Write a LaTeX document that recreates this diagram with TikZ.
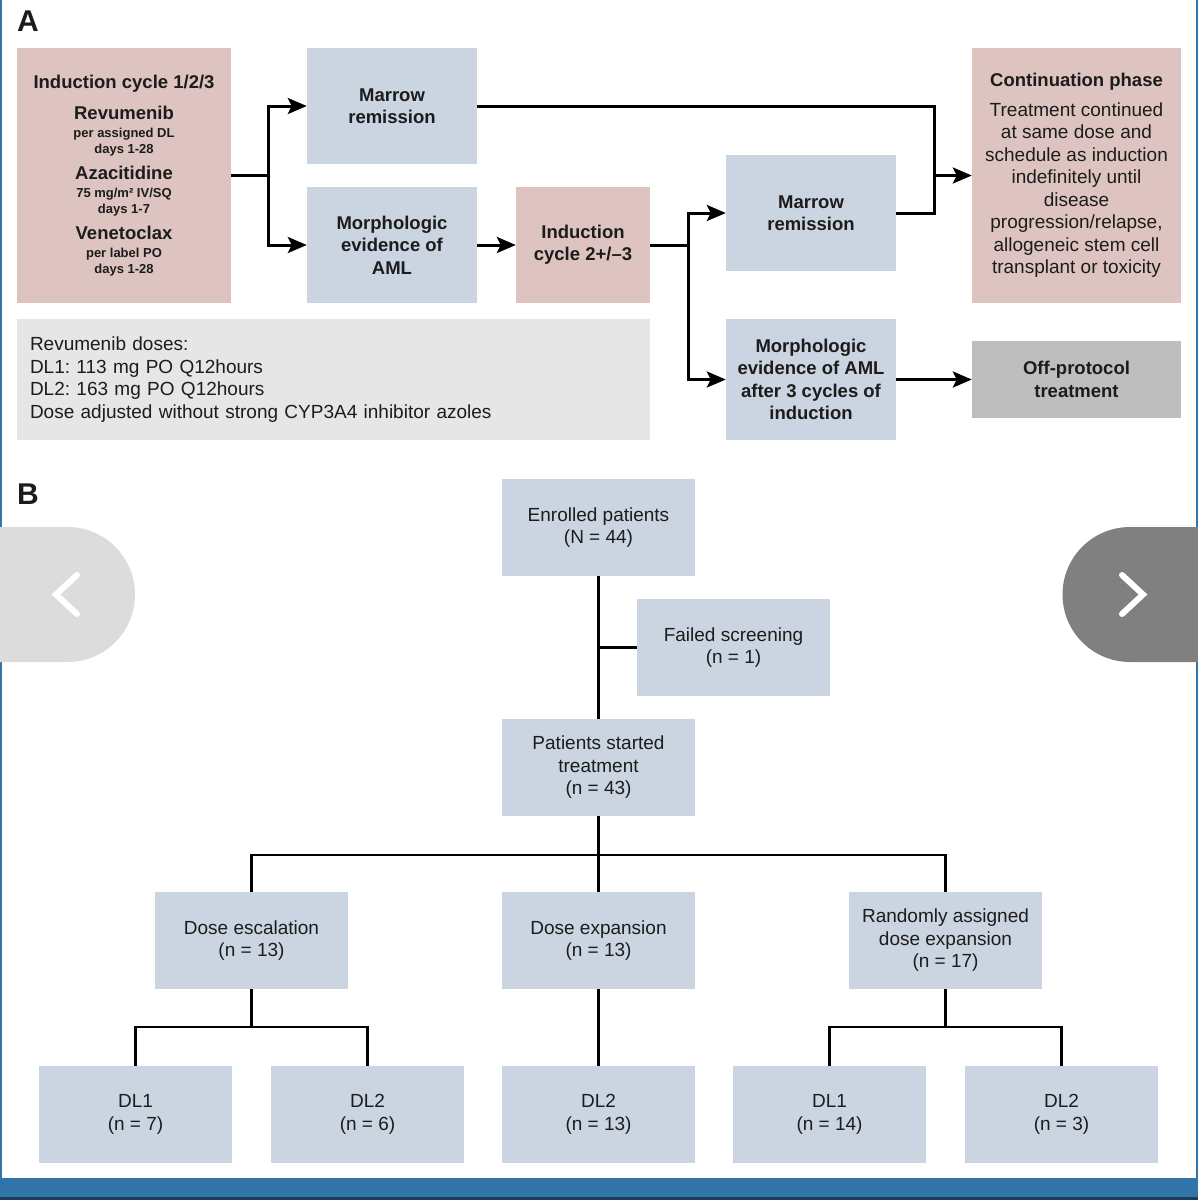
\documentclass[tikz,border=0pt]{standalone}
\usepackage{fontspec}
\setmainfont{Liberation Sans}
\usetikzlibrary{arrows.meta}
\frenchspacing
\definecolor{pinkc}{RGB}{222,196,192}
\definecolor{bluec}{RGB}{203,213,226}
\definecolor{notec}{RGB}{230,230,230}
\definecolor{offc}{RGB}{190,190,190}
\definecolor{txt}{RGB}{28,28,28}
\definecolor{barc}{RGB}{49,116,170}
\definecolor{bardark}{RGB}{30,60,90}
\definecolor{navl}{RGB}{220,220,220}
\definecolor{navd}{RGB}{128,128,128}
\begin{document}
\begin{tikzpicture}[x=1pt,y=-1pt,
  box/.style={inner sep=0pt, align=center, text=txt},
  pinkbox/.style={box, fill=pinkc},
  bluebox/.style={box, fill=bluec},
  bold/.style={font=\fontsize{18.5}{22.3}\selectfont\bfseries},
  reg/.style={font=\fontsize{19}{22.5}\selectfont},
  breg/.style={font=\fontsize{19}{22.5}\selectfont},
  conn/.style={line width=3pt, draw=black},
  arr/.style={conn, -{Stealth[length=19pt,width=16pt,inset=4pt]}},
  tree/.style={line width=2.5pt, draw=black},
  panel/.style={font=\fontsize{30}{30}\selectfont\bfseries, text=txt, inner sep=0pt},
  chev/.style={draw=white, line width=6pt, line cap=round, line join=miter}
]
% background and frame
\fill[white] (0,0) rectangle (1198,1200);
\useasboundingbox (0,0) rectangle (1198,1200);
\fill[barc] (0,0) rectangle (2,1178);
\fill[barc] (1196,0) rectangle (1198,1178);
\fill[barc] (0,1178) rectangle (1198,1200);
\fill[bardark] (0,1197) rectangle (1198,1200);

% ---------------- Panel A ----------------
\node[panel] (labA) at (28,21) {A};

\node[pinkbox, minimum width=214, minimum height=255,
  font=\fontsize{13}{16}\selectfont\bfseries] (ind) at (124,175.5)
  {{\fontsize{18.5}{16}\selectfont Induction cycle 1/2/3}\\[13pt]
   {\fontsize{18.5}{16}\selectfont Revumenib}\\[2pt]
   per assigned DL\\
   days 1-28\\[9pt]
   {\fontsize{18.5}{16}\selectfont Azacitidine}\\[2pt]
   75 mg/m² IV/SQ\\
   days 1-7\\[9pt]
   {\fontsize{18.5}{16}\selectfont Venetoclax}\\[2pt]
   per label PO\\
   days 1-28};

\node[bluebox, bold, minimum width=170, minimum height=116] (mr1) at (392,106)
  {Marrow\\remission};
\node[bluebox, bold, minimum width=170, minimum height=116] (morph) at (392,245)
  {Morphologic\\evidence of\\AML};
\node[pinkbox, bold, minimum width=134, minimum height=116] (ic2) at (583,245)
  {Induction\\cycle 2+/–3};
\node[bluebox, bold, minimum width=170, minimum height=116] (mr2) at (811,213)
  {Marrow\\remission};
\node[pinkbox, reg, minimum width=209, minimum height=255] (cont) at (1076.5,175.5)
  {{\fontsize{18.5}{22.5}\selectfont\bfseries Continuation phase}\\[7pt]
   Treatment continued\\
   at same dose and\\
   schedule as induction\\
   indefinitely until\\
   disease\\
   progression/relapse,\\
   allogeneic stem cell\\
   transplant or toxicity};
\node[box, fill=notec, reg, minimum width=633, minimum height=121,
  text width=607, inner xsep=13pt, align=left] (note) at (333.5,379.5)
  {Revumenib doses:\\
   DL1: 113 mg PO Q12hours\\
   DL2: 163 mg PO Q12hours\\
   Dose adjusted without strong CYP3A4 inhibitor azoles};
\node[bluebox, bold, minimum width=170, minimum height=121] (morph3) at (811,379.5)
  {Morphologic\\evidence of AML\\after 3 cycles of\\induction};
\node[box, fill=offc, bold, minimum width=209, minimum height=77] (off) at (1076.5,379.5)
  {Off-protocol\\treatment};

\coordinate (j1) at (268,175.5);
\coordinate (j2) at (688,245);
\coordinate (j3) at (934,175.5);

\draw[conn] (ind.east) -- (j1);
\draw[arr] (j1) |- (mr1.west);
\draw[arr] (j1) |- (morph.west);
\draw[arr] (morph.east) -- (ic2.west);
\draw[conn] (ic2.east) -- (j2);
\draw[arr] (j2) |- (mr2.west);
\draw[arr] (j2) |- (morph3.west);
\draw[conn] (mr1.east) -| (j3 |- mr2.east) -- (mr2.east);
\draw[arr] (j3) -- (cont.west);
\draw[arr] (morph3.east) -- (off.west);

% ---------------- Panel B ----------------
\node[panel] (labB) at (28,494) {B};

\begin{scope}[every node/.style={bluebox, breg, minimum width=193, minimum height=97}]
\node (enr) at (598.5,527.5) {Enrolled patients\\(N = 44)};
\node (fail) at (733.5,647.5) {Failed screening\\(n = 1)};
\node (pst) at (598.5,767.5) {Patients started\\treatment\\(n = 43)};
\node (esc) at (251.5,940.5) {Dose escalation\\(n = 13)};
\node (exp) at (598.5,940.5) {Dose expansion\\(n = 13)};
\node (rnd) at (945.5,940.5) {Randomly assigned\\dose expansion\\(n = 17)};
\node (d1) at (135.5,1114.5) {DL1\\(n = 7)};
\node (d2) at (367.5,1114.5) {DL2\\(n = 6)};
\node (d3) at (598.5,1114.5) {DL2\\(n = 13)};
\node (d4) at (829.5,1114.5) {DL1\\(n = 14)};
\node (d5) at (1061.5,1114.5) {DL2\\(n = 3)};
\end{scope}

\coordinate (hb) at (598.5,855);
\coordinate (e1) at (251.5,1027);
\coordinate (e2) at (945.5,1027);

\draw[tree] (enr.south) -- (pst.north);
\draw[tree] (fail.west) -- (fail.west -| enr.south);
\draw[tree] (pst.south) -- (exp.north);
\draw[tree] (esc.north) |- (hb) -| (rnd.north);
\draw[tree] (esc.south) -- (e1);
\draw[tree] (d1.north) |- (e1) -| (d2.north);
\draw[tree] (exp.south) -- (d3.north);
\draw[tree] (rnd.south) -- (e2);
\draw[tree] (d4.north) |- (e2) -| (d5.north);

% ---------------- navigation buttons ----------------
\fill[navl] (0,527) -- (67.5,527)
  .. controls (104.8,527) and (135,557.2) .. (135,594.5)
  .. controls (135,631.8) and (104.8,662) .. (67.5,662)
  -- (0,662) -- cycle;
\draw[chev] (77,575) -- (56,594.5) -- (77,614);
\fill[navd] (1198,527) -- (1130,527)
  .. controls (1092.7,527) and (1062.5,557.2) .. (1062.5,594.5)
  .. controls (1062.5,631.8) and (1092.7,662) .. (1130,662)
  -- (1198,662) -- cycle;
\draw[chev] (1122,575) -- (1143,594.5) -- (1122,614);
\end{tikzpicture}
\end{document}
